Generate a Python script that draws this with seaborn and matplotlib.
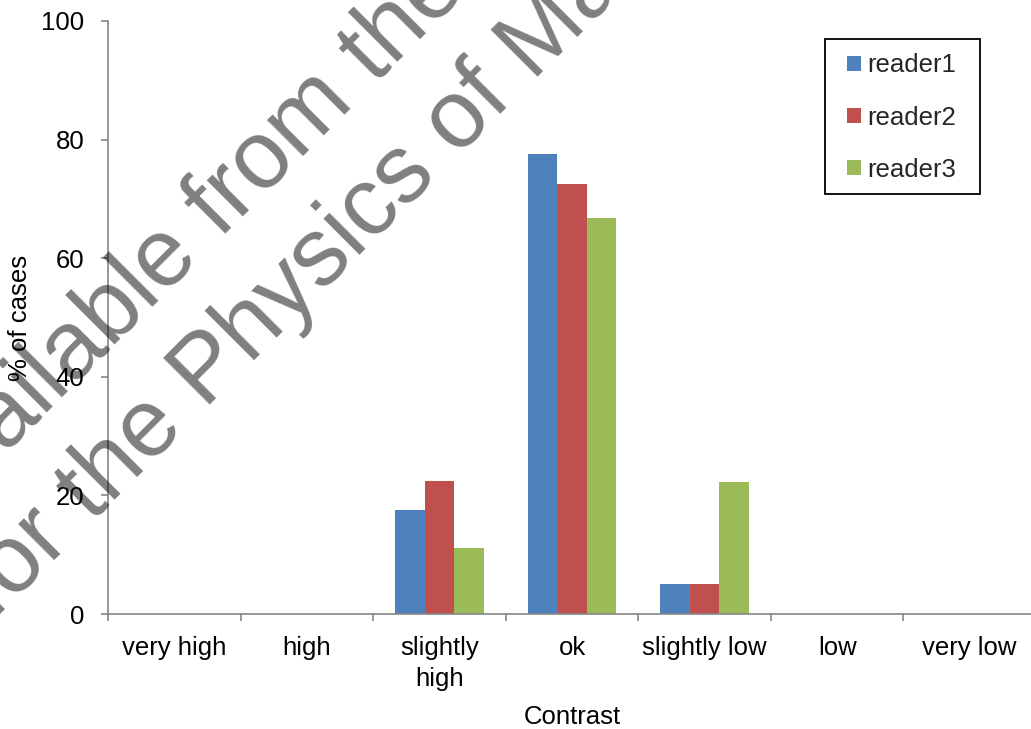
import matplotlib
matplotlib.use("Agg")
import matplotlib.pyplot as plt
import seaborn as sns
import pandas as pd
from matplotlib.patches import Rectangle
from matplotlib.ticker import FixedLocator

# Categories along the contrast scale
categories = ["very high", "high", "slightly\nhigh", "ok", "slightly low", "low", "very low"]
readers = ["reader1", "reader2", "reader3"]

# Percentage of cases per reader
reader1 = [0, 0, 17.5, 77.5, 5.0, 0, 0]
reader2 = [0, 0, 22.5, 72.5, 5.0, 0, 0]
reader3 = [0, 0, 11.1, 66.7, 22.2, 0, 0]

y_ticks = [0, 20, 40, 60, 80, 100]
colors = ["#4F81BD", "#C0504D", "#9BBB59"]

df = pd.DataFrame({
    "Contrast": categories * 3,
    "value": reader1 + reader2 + reader3,
    "reader": [r for r in readers for _ in categories],
})

sns.set_theme(style="white")
plt.rcParams["font.family"] = ["Liberation Sans", "DejaVu Sans"]
FS = 18.5
AX_GRAY = "#868686"

W, H = 1031, 729
fig = plt.figure(figsize=(W / 100, H / 100), dpi=100)
ax = fig.add_axes([108 / W, 1 - 614 / H, 928 / W, 593 / H])

sns.barplot(data=df, x="Contrast", y="value", hue="reader", order=categories,
            hue_order=readers, palette=colors, saturation=1, width=0.667,
            linewidth=0, ax=ax)

ax.set_xlim(-0.5, len(categories) - 0.5)
ax.set_ylim(0, 100)
ax.set_yticks(y_ticks)
ax.set_yticklabels([str(t) for t in y_ticks], fontsize=FS, color="black")

for side in ("top", "right"):
    ax.spines[side].set_visible(False)
for side in ("left", "bottom"):
    ax.spines[side].set_color(AX_GRAY)
    ax.spines[side].set_linewidth(1.2)

# x labels centred on categories, tick marks on category boundaries
ax.set_xticks(range(len(categories)))
ax.set_xticklabels(categories, fontsize=FS, color="black", linespacing=1.35)
ax.xaxis.set_minor_locator(FixedLocator([i - 0.5 for i in range(len(categories) + 1)]))
ax.tick_params(axis="x", which="major", length=0, pad=16)
ax.tick_params(axis="x", which="minor", bottom=True, length=5, width=1.2, color=AX_GRAY)
ax.tick_params(axis="y", which="major", left=True, length=5, width=1.2, color=AX_GRAY, pad=12)

ax.set_xlabel("Contrast", fontsize=FS, color="black")
ax.set_ylabel("% of cases", fontsize=FS, color="black")
ax.xaxis.set_label_coords(0.5, -0.153)
ax.yaxis.set_label_coords(-0.082, 0.5)

# Legend entries, boxed by a plain rectangle
leg = ax.legend(loc="upper left", bbox_to_anchor=(847 / W, 1 - 53.5 / H),
                bbox_transform=fig.transFigure, borderaxespad=0, fontsize=FS,
                frameon=False, handlelength=0.545, handleheight=0.545,
                handletextpad=0.23, labelspacing=1.09, borderpad=0, title=None)
fig.patches.append(Rectangle((825 / W, 1 - 194 / H), 155 / W, 155 / H,
                             transform=fig.transFigure, fill=False,
                             edgecolor="black", linewidth=1.3, zorder=5))

# Diagonal distribution watermark
wm_kw = dict(rotation=45, rotation_mode="anchor", ha="left", va="baseline",
             fontsize=69, color="black", alpha=0.5, zorder=10)
fig.text(-73 / W, 1 - 532 / H, "Available from the", **wm_kw)
fig.text(-6 / W, 1 - 621 / H, "for the Physics of Ma", **wm_kw)

fig.savefig("out.png", dpi=100)
